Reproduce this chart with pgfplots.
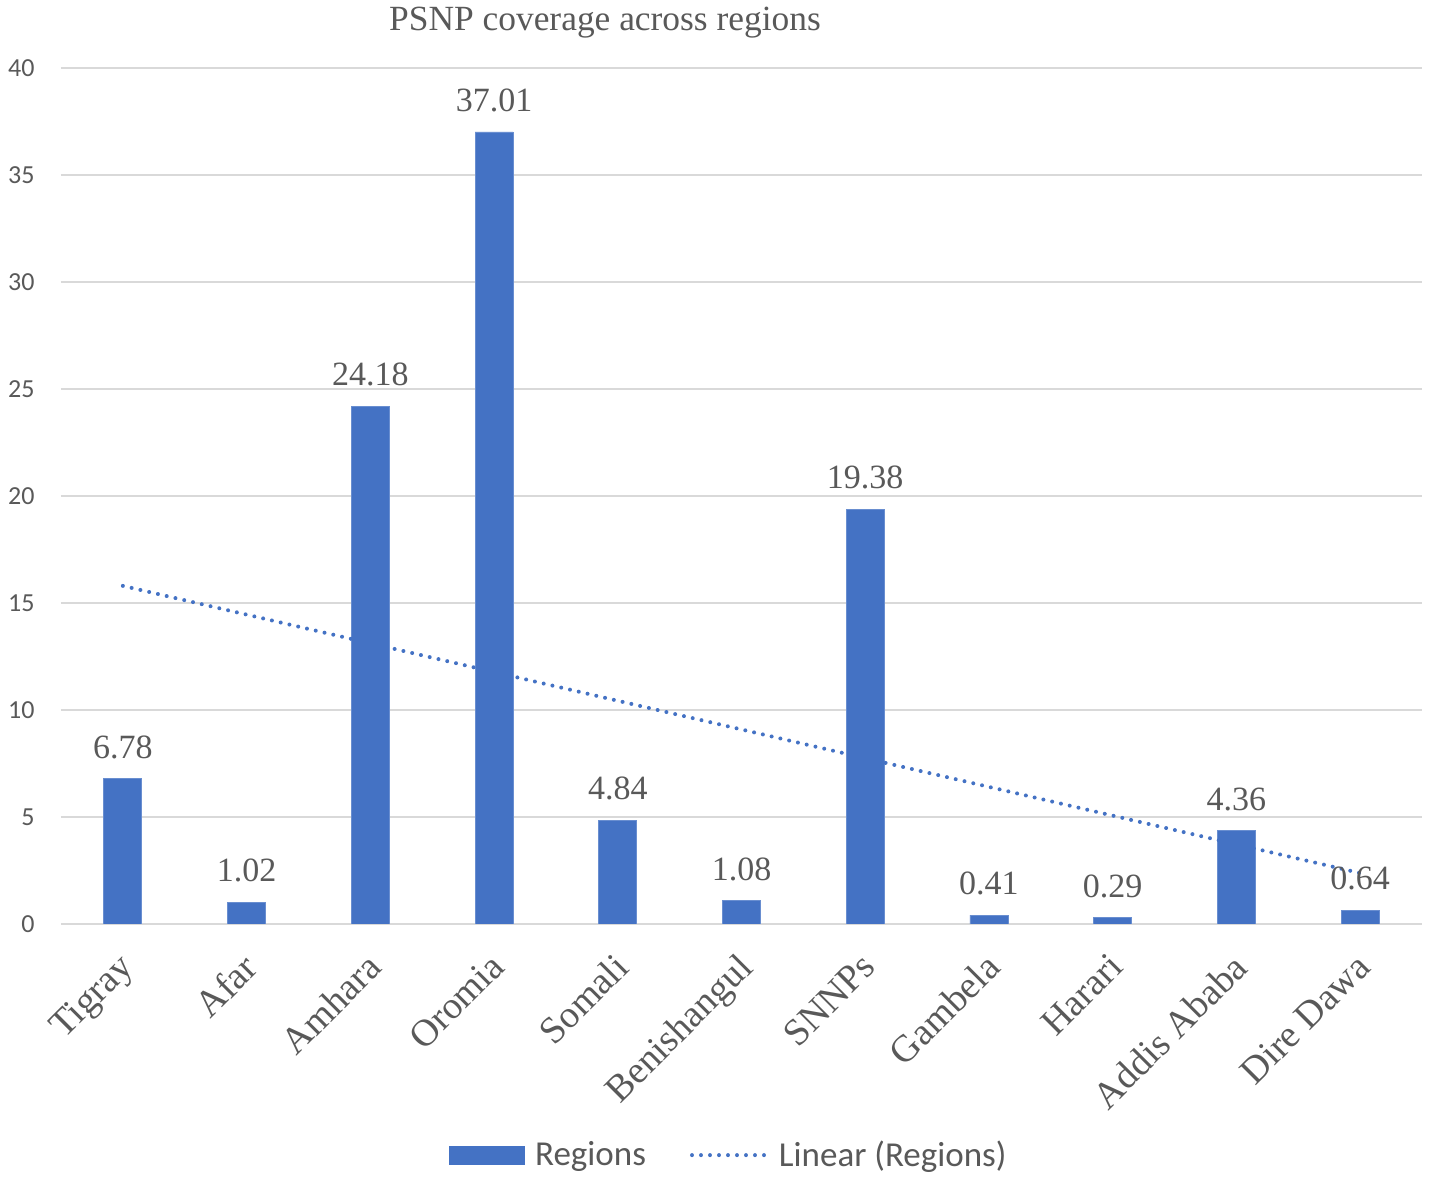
\documentclass[border=0pt]{standalone}
\usepackage{pgfplots}
\pgfplotsset{compat=1.18}
\usepackage{fontspec}
\setmainfont{Liberation Serif}
\newfontfamily\carlito{Carlito}
\definecolor{barblue}{HTML}{4472C4}
\definecolor{txtgray}{HTML}{595959}
\definecolor{gridgray}{HTML}{D9D9D9}
\begin{document}
\begin{tikzpicture}
\begin{axis}[
  at={(0,0)}, anchor=south west,
  scale only axis,
  width=680.5pt, height=428pt,
  xmin=-0.5, xmax=10.5,
  ymin=0, ymax=40,
  ytick={0,5,...,40},
  xtick={0,...,10},
  xticklabels={Tigray,Afar,Amhara,Oromia,Somali,Benishangul,SNNPs,Gambela,Harari,Addis Ababa,Dire Dawa},
  axis x line*=bottom,
  axis y line*=left,
  y axis line style={draw=none},
  x axis line style={gridgray, line width=0.8pt, -},
  ymajorgrids,
  grid style={gridgray, line width=0.8pt},
  major tick length=0pt,
  yticklabel style={font=\carlito\fontsize{13}{15}\selectfont, text=txtgray, anchor=east, inner sep=0pt, xshift=-13pt},
  yticklabel={\pgfmathprintnumber[assume math mode=true]{\tick}},
  xticklabel style={font=\fontsize{19}{21}\selectfont, text=txtgray, rotate=45, anchor=north east, inner sep=0pt, yshift=-7.5pt, xshift=-11.5pt},
  legend style={at={(0.4937,-0.27)}, anchor=center, draw=none, legend columns=2,
     font=\carlito\fontsize{17.5}{20}\selectfont, text=txtgray,
     /tikz/every even column/.append style={column sep=17pt},
     /tikz/every odd column/.append style={column sep=0pt},
     nodes={inner xsep=5pt}},
  legend cell align=left,
]
\addplot[ybar, bar width=19pt, fill=barblue, draw=barblue!80!white,
  nodes near coords,
  every node near coord/.append style={font=\fontsize{17}{19}\selectfont, text=txtgray, anchor=south, yshift=6.5pt},
  nodes near coords={\pgfmathprintnumber[fixed, precision=2, fixed zerofill, assume math mode=true]{\pgfplotspointmeta}},
  legend image code/.code={\fill[barblue] (0pt,-4.5pt) rectangle (37.5pt,4.5pt);}
] coordinates {
  (0,6.78) (1,1.02) (2,24.18) (3,37.01) (4,4.84) (5,1.08)
  (6,19.38) (7,0.41) (8,0.29) (9,4.36) (10,0.64)
};
\addlegendentry{Regions}
\addplot[barblue, line width=2pt, line cap=round, dash pattern=on 0pt off 4.5pt,
  legend image code/.code={\draw[barblue, line width=2pt, line cap=round, dash pattern=on 0pt off 4.5pt] (0pt,0pt) -- (37.5pt,0pt);}
] coordinates {(0,15.80) (10,2.38)};
\addlegendentry{Linear (Regions)}
\end{axis}
\node[font=\fontsize{17.7}{20}\selectfont, text=txtgray] at (272pt,450.5pt) {PSNP coverage across regions};
\pgfresetboundingbox
\path (-30.5pt,-128.5pt) rectangle (684.5pt,462pt);
\end{tikzpicture}
\end{document}
